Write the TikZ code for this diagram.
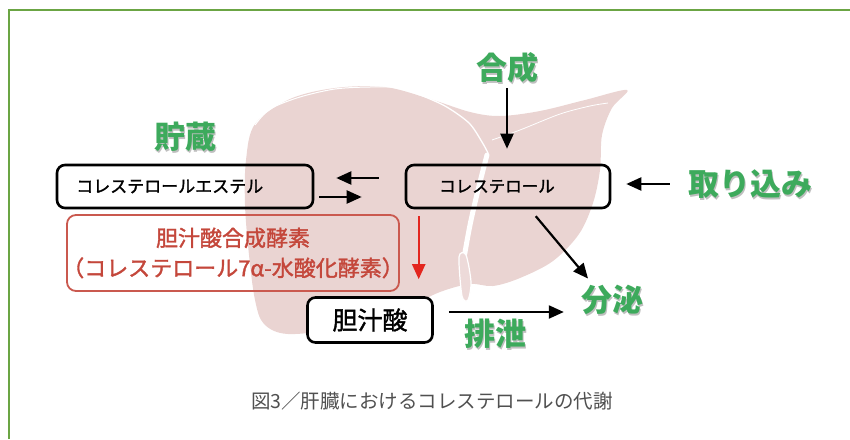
\documentclass[tikz,border=0pt]{standalone}
\usepackage{fontspec}
\setmainfont{Noto Sans CJK JP}
\newfontfamily\medfont[FakeBold=1.6]{Noto Sans CJK JP}
\usepackage{xcolor}
\definecolor{framegreen}{HTML}{6BA544}
\definecolor{labelgreen}{HTML}{3DAA5C}
\definecolor{liverpink}{RGB}{234,212,210}
\definecolor{enzymered}{HTML}{C4473B}
\definecolor{arrowred}{HTML}{E3261F}
\definecolor{captiongray}{HTML}{505050}
\usetikzlibrary{arrows.meta,positioning}

\begin{document}
\begin{tikzpicture}[x=1pt, y=-1pt, >={Triangle[length=15pt,width=13pt]},
	flow/.style={->, line width=2.2pt},
	box/.style={draw, line width=2.6pt, rounded corners=8pt, minimum height=43pt, inner sep=0pt},
	tag/.style={labelgreen, inner sep=0pt, font=\bfseries\fontsize{31}{31}\selectfont},
	tagshadow/.style={black!25, inner sep=0pt, font=\bfseries\fontsize{31}{31}\selectfont}
	]

	\useasboundingbox (0,0) rectangle (850,439);

	% ================= frame =================
	\draw[framegreen, line width=2pt] (8.5,439) -- (8.5,9.5) -- (850,9.5);

	% ================= liver silhouette =================
	\fill[liverpink] plot[smooth cycle, tension=0.55] coordinates {
		(255,124) (290,99) (335,88) (385,87) (430,99) (470,112) (500,116)
		(540,111) (585,100) (627,90) (612,108) (602,135) (600,170)
		(593,203) (579,234) (553,261) (520,278) (493,286) (470,284)
		(440,292) (400,310) (340,328) (288,334) (264,324) (255,300)
		(249,255) (245,205) (246,160)
	};

	% edge highlight, fissure and gallbladder
	\draw[white, line width=1pt] plot[smooth] coordinates {(255,125) (270,109) (300,97) (335,89) (370,87) (405,88) (430,97)};
	\draw[white, line width=1.3pt] plot[smooth] coordinates {(418,94) (445,106) (469,123) (482,142) (488,153)};
	\draw[white, line width=0.8pt] plot[smooth] coordinates {(492,140) (520,130) (560,114) (590,106) (608,103)};
	\draw[white, line width=5pt, line cap=round] plot[smooth] coordinates {(487,155) (478,190) (470,225) (464,258)};
	\draw[white, line width=1.2pt, fill=liverpink!85] plot[smooth cycle] coordinates {(459,257) (466,255) (471,282) (468,300) (462,296)};

	% ================= boxes =================
	\node[box, minimum width=256pt] (ester) at (185,186.5) {};
	\node[anchor=west, font=\medfont\fontsize{17}{17}\selectfont] (esterText) at ([xshift=17pt]ester.west) {コレステロールエステル};

	\node[box, minimum width=204pt] (chol) at (508,186.5) {};
	\node[font=\medfont\fontsize{16.5}{16.5}\selectfont] (cholText) at (497,186.5) {コレステロール};

	\node[box, draw=enzymered!90, line width=1.8pt, rounded corners=9pt,
		minimum width=332pt, minimum height=76pt] (enzyme) at (233,253) {};
	\node[enzymered, align=center, font=\medfont\fontsize{22}{30}\selectfont] (enzymeText) at (233,253)
		{胆汁酸合成酵素\\（コレステロール7α-水酸化酵素）};

	\node[box, fill=white, minimum width=125pt, minimum height=45pt,
		font=\medfont\fontsize{25}{25}\selectfont] (bile) at (370,320) {胆汁酸};

	% ================= green labels =================
	\foreach \n/\x/\y/\t in {synth/507/68/合成, store/185/137/貯蔵, uptake/750/184/取り込み,
		secr/612/300/分泌, excr/495/334/排泄}{
		\node[tagshadow] at (\x+1.6,\y+1.6) {\t};
		\node[tag] (\n) at (\x,\y) {\t};
	}

	% ================= arrows =================
	\draw[flow, shorten <=5pt, shorten >=15pt] (synth.south) -- (synth.south |- chol.north);
	\draw[flow, shorten <=18pt, shorten >=15pt] (uptake.west) -- (uptake.west -| chol.east);
	\draw[flow, shorten <=26pt, shorten >=22pt] ([yshift=8.5pt]chol.west) -- ([yshift=8.5pt]chol.west -| ester.east);
	\draw[flow, shorten <=5pt, shorten >=43pt] ([yshift=-10.5pt]ester.east) -- ([yshift=-10.5pt]ester.east -| chol.west);
	\draw[flow, arrowred, shorten <=7pt, shorten >=17pt] ([xshift=14pt]chol.south west) -- ([xshift=14pt]chol.south west |- bile.north);
	\draw[flow, shorten <=9pt, shorten >=28pt] ([xshift=22pt]chol.south) -- ([xshift=-6pt]secr.center);
	\draw[flow, shorten <=15pt, shorten >=17pt] ([yshift=8pt]bile.east) -- ([yshift=8pt]bile.east -| secr.west);

	% ================= caption =================
	\node[captiongray, font=\fontsize{19.5}{19.5}\selectfont] (caption) at (432,401) {図3／肝臓におけるコレステロールの代謝};

\end{tikzpicture}
\end{document}
